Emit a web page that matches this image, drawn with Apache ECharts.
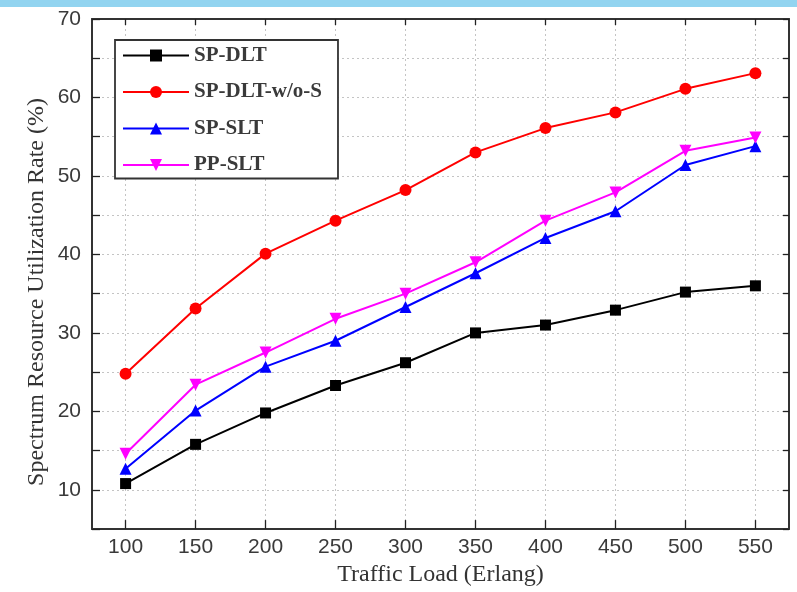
<!DOCTYPE html>
<html>
<head>
<meta charset="utf-8">
<script src="https://cdn.jsdelivr.net/npm/echarts@6/dist/echarts.min.js"></script>
<style>html,body{margin:0;padding:0;background:#fff}#c{width:797px;height:592px}</style>
</head>
<body>
<div id="c"></div>
<script>
var xValues = [100, 150, 200, 250, 300, 350, 400, 450, 500, 550];
var spDLT = [10.8, 15.8, 19.8, 23.3, 26.2, 30.0, 31.0, 32.9, 35.2, 36.0];
var spDLTwoS = [24.8, 33.1, 40.1, 44.3, 48.2, 53.0, 56.1, 58.1, 61.1, 63.1];
var spSLT = [12.7, 20.1, 25.7, 29.0, 33.3, 37.6, 42.1, 45.5, 51.4, 53.8];
var ppSLT = [14.6, 23.4, 27.5, 31.8, 35.0, 39.0, 44.3, 47.9, 53.2, 54.9];
var seriesNames = ['SP-DLT', 'SP-DLT-w/o-S', 'SP-SLT', 'PP-SLT'];
var yLabelTicks = [10, 20, 30, 40, 50, 60, 70];
var yMinorTicks = [5, 10, 15, 20, 25, 30, 35, 40, 45, 50, 55, 60, 65, 70];
var xTitle = 'Traffic Load (Erlang)';
var yTitle = 'Spectrum Resource Utilization Rate (%)';

function pairs(ys) { return xValues.map(function (x, i) { return [x, ys[i]]; }); }

var chart = echarts.init(document.getElementById('c'), null, {renderer: 'canvas'});
var tickStyle = {color: '#222', width: 1.3};
var axisLineStyle = {color: '#333', width: 2};
var split = {show: true, lineStyle: {color: '#c4c4c4', type: [2, 3], width: 1}};
var tickFont = {fontFamily: "'Liberation Sans Narrow', 'Liberation Sans'", fontSize: 21, color: '#3a3a3a'};
function mk(name, data, color, symbol, size) {
  return {
    name: name, type: 'line', data: pairs(data), symbol: symbol, symbolSize: size,
    lineStyle: {color: color, width: 2}, itemStyle: {color: color},
    emphasis: {disabled: true}, animation: false, z: 3
  };
}
var ss = mk('SP-SLT', spSLT, '#0000ff', 'triangle', 12);
var ps = mk('PP-SLT', ppSLT, '#ff00ff', 'triangle', 12);
ps.symbolRotate = 180;
chart.setOption({
  animation: false,
  backgroundColor: '#fff',
  graphic: [
    {type: 'rect', left: 0, top: 0, shape: {width: 797, height: 7}, style: {fill: '#92d4f0'}, z: 100},
    {type: 'text', x: 37, y: 292, rotation: Math.PI / 2,
     style: {text: yTitle, align: 'center', verticalAlign: 'middle',
             font: '24px "Liberation Serif"', fill: '#333'}}
  ],
  grid: {left: 92, right: 8, top: 19, bottom: 62},
  legend: {
    orient: 'vertical', left: 115, top: 40,
    data: seriesNames,
    itemWidth: 66, itemHeight: 15, itemGap: 15.5,
    padding: [5, 16, 3, 7],
    backgroundColor: '#fff', borderColor: '#333', borderWidth: 1.8,
    textStyle: {fontFamily: 'Liberation Serif', fontWeight: 'bold', fontSize: 21, color: '#3a3a3a'},
    selectedMode: false, z: 10
  },
  xAxis: [{
    type: 'value', min: 76, max: 574,
    name: xTitle, nameLocation: 'middle', nameGap: 32,
    nameTextStyle: {fontFamily: 'Liberation Serif', fontSize: 24, color: '#333'},
    axisLine: {show: true, lineStyle: axisLineStyle},
    axisTick: {show: true, inside: true, length: 9, lineStyle: tickStyle, customValues: xValues},
    axisLabel: Object.assign({customValues: xValues, margin: 8}, tickFont),
    splitLine: split
  }, {
    type: 'value', position: 'top', min: 76, max: 574,
    axisLine: {show: true, lineStyle: axisLineStyle},
    axisTick: {show: true, inside: true, length: 6, lineStyle: tickStyle, customValues: xValues},
    axisLabel: {show: false}, splitLine: {show: false}
  }],
  yAxis: [{
    type: 'value', min: 5, max: 70,
    axisLine: {show: true, lineStyle: axisLineStyle},
    axisTick: {show: true, inside: true, length: 8, lineStyle: tickStyle, customValues: yMinorTicks},
    axisLabel: Object.assign({customValues: yLabelTicks, margin: 11}, tickFont),
    splitLine: split
  }, {
    type: 'value', position: 'right', min: 5, max: 70,
    axisLine: {show: true, lineStyle: axisLineStyle},
    axisTick: {show: true, inside: true, length: 6, lineStyle: tickStyle, customValues: yMinorTicks},
    axisLabel: {show: false}, splitLine: {show: false}
  }],
  series: [
    mk('SP-DLT', spDLT, '#000000', 'rect', 11),
    mk('SP-DLT-w/o-S', spDLTwoS, '#ff0000', 'circle', 12),
    ss, ps
  ]
});
</script>
</body>
</html>
